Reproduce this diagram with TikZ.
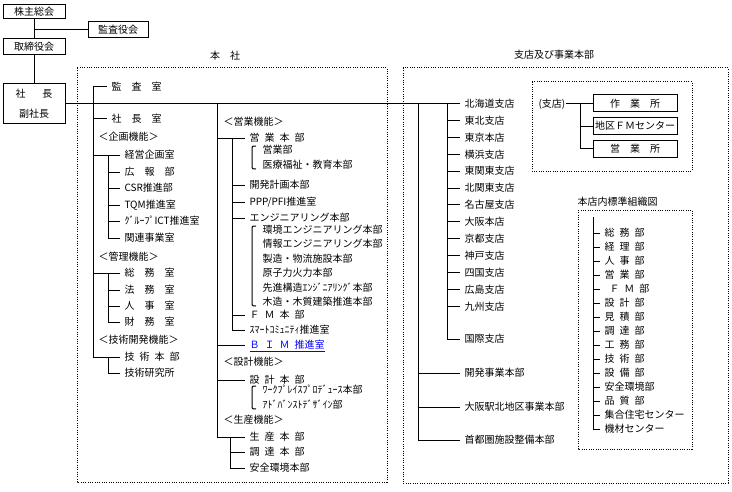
\documentclass[tikz,border=0pt]{standalone}
\usepackage{fontspec}
\setmainfont{Noto Sans CJK JP}

\definecolor{linkblue}{RGB}{0,0,255}

\newcommand\hs{\hspace{0.5em}}
% side bracket in front of a group of sub units: x, top y, bottom y
\newcommand\sidebracket[3]{%
	\draw (#1+4,#2) .. controls (#1,#2) .. (#1,#2+4) -- (#1,#3-4) .. controls (#1,#3) .. (#1+4,#3);}

\tikzset{
	unit/.style = {anchor=west, inner xsep=3pt, inner ysep=0pt, text height=6.6pt, text depth=0.9pt},
	sub/.style = {unit, inner xsep=0pt},
	frame/.style = {draw, inner sep=0pt},
	dotframe/.style = {draw, densely dotted}
}

\begin{document}
\begin{tikzpicture}[x=0.75pt, y=-0.75pt, line width=0.75pt, font={\fontsize{7.5pt}{9pt}\selectfont}]

	% Definitions

	\def\branchgap{16.9}	% spacing of the branch offices
	\def\deptgap{14}		% spacing of the standard departments

	\useasboundingbox (0,0) rectangle (732,492);


	% Governing bodies

	\node[frame, minimum width=46.5pt, minimum height=10.5pt] (agm) at (34,12) {株主総会};
	\node[frame, minimum width=45pt, minimum height=12pt] (auditors) at (118,30) {監査役会};
	\node[frame, minimum width=46.5pt, minimum height=12pt] (board) at (34,47) {取締役会};
	\node[frame, minimum width=46.5pt, minimum height=29.25pt, align=center] (president) at (34,103.5) {社\hspace{1.7em}長\\[6pt]副社長};

	\draw (agm) -- (board);
	\draw (agm.south |- auditors.west) -- (auditors.west);
	\draw (board) -- (president);


	% Head office, left column

	\node (hqlabel) at (225,56) {本　社};
	\draw[dotframe] (77,68) rectangle (387,482);

	\coordinate (lspine) at (93,87);
	\node[unit] (audit) at (107,87) {監　査　室};
	\node[unit] (secretariat) at (107,119) {社　長　室};

	\node[sub] (planlabel) at (98,137) {＜企画機能＞};
	\coordinate (plan) at (108,155);
	\foreach \y/\t [count=\i] in {155/経営企画室, 172/広　報　部, 188/CSR推進部, 205/TQM推進室, 221/ｸﾞﾙｰﾌﾟICT推進室, 238/関連事業室}
		\node[unit] (plan\i) at (120,\y) {\t};

	\node[sub] (adminlabel) at (98,257) {＜管理機能＞};
	\coordinate (admin) at (108,273);
	\foreach \y/\t [count=\i] in {273/総　務　室, 290/法　務　室, 306/人　事　室, 322/財　務　室}
		\node[unit] (admin\i) at (120,\y) {\t};

	\node[sub] (techlabel) at (98,340) {＜技術開発機能＞};
	\coordinate (tech) at (108,357);
	\node[unit] (tech1) at (120,357) {技\hs 術\hs 本\hs 部};
	\node[unit] (tech2) at (120,373) {技術研究所};

	\draw (lspine) |- (tech1.west);
	\draw (lspine) -- (audit.west);
	\draw (lspine |- secretariat.west) -- (secretariat.west);
	\draw (lspine |- plan1.west) -- (plan1.west);
	\draw (lspine |- admin1.west) -- (admin1.west);
	\draw (plan) |- (plan6.west);
	\foreach \i in {2,...,5}
		\draw (plan |- plan\i.west) -- (plan\i.west);
	\draw (admin) |- (admin4.west);
	\foreach \i in {2,3}
		\draw (admin |- admin\i.west) -- (admin\i.west);
	\draw (tech) |- (tech2.west);


	% Head office, right column

	\coordinate (mspine) at (217,103.5);

	\node[sub] (saleslabel) at (223,122) {＜営業機能＞};
	\coordinate (sales) at (232,138);
	\node[unit] (sales1) at (245,138) {営\hs 業\hs 本\hs 部};
	\node[sub] (sales1a) at (262,150) {営業部};
	\node[sub] (sales1b) at (262,165) {医療福祉・教育本部};
	\node[unit] (sales2) at (245,185) {開発計画本部};
	\node[unit] (sales3) at (245,202) {PPP/PFI推進室};
	\node[unit] (sales4) at (245,218) {エンジニアリング本部};
	\foreach \y/\t [count=\i] in {230/環境エンジニアリング本部, 244/情報エンジニアリング本部, 259/製造・物流施設本部, 273/原子力火力本部, 288/先進構造ｴﾝｼﾞﾆｱﾘﾝｸﾞ本部, 302/木造・木質建築推進本部}
		\node[sub] (eng\i) at (262,\y) {\t};
	\node[unit] (sales5) at (245,315) {Ｆ\hs Ｍ\hs 本\hs 部};
	\node[unit] (sales6) at (245,330) {ｽﾏｰﾄｺﾐｭﾆﾃｨ推進室};
	\node[unit, text=linkblue] (bim) at (245,345) {\underline{Ｂ\hs Ｉ\hs Ｍ\hs 推進室}};

	\node[sub] (designlabel) at (223,362) {＜設計機能＞};
	\node[unit] (design1) at (245,380) {設\hs 計\hs 本\hs 部};
	\node[sub] (design1a) at (262,390) {ﾜｰｸﾌﾟﾚｲｽﾌﾟﾛﾃﾞｭｰｽ本部};
	\node[sub] (design1b) at (262,405) {ｱﾄﾞﾊﾞﾝｽﾄﾃﾞｻﾞｲﾝ部};

	\node[sub] (prodlabel) at (223,420) {＜生産機能＞};
	\coordinate (prod) at (230,437);
	\node[unit] (prod1) at (245,437) {生\hs 産\hs 本\hs 部};
	\node[unit] (prod2) at (245,452) {調\hs 達\hs 本\hs 部};
	\node[unit] (prod3) at (245,468) {安全環境本部};

	\draw (mspine) |- (prod1.west);
	\draw (mspine |- sales1.west) -- (sales1.west);
	\draw (sales) |- (sales6.west);
	\foreach \n in {sales2, sales3, sales4, sales5}
		\draw (sales |- \n.west) -- (\n.west);
	\draw (mspine |- bim.west) -- (bim.west);
	\draw (mspine |- design1.west) -- (design1.west);
	\draw (prod) |- (prod3.west);
	\draw (prod |- prod2.west) -- (prod2.west);

	\sidebracket{252}{146}{169}
	\sidebracket{252}{226}{306}
	\sidebracket{252}{386}{409}


	% Branches and divisions

	\node (brlabel) at (554,55) {支店及び事業本部};
	\draw[dotframe] (403,68) rectangle (728,483);

	\coordinate (bspine) at (447,103.5);
	\coordinate (dspine) at (418,103.5);
	\foreach \t [count=\i] in {北海道支店, 東北支店, 東京本店, 横浜支店, 東関東支店, 北関東支店, 名古屋支店, 大阪本店, 京都支店, 神戸支店, 四国支店, 広島支店, 九州支店}
		\node[unit] (branch\i) at (460,{103.5+\branchgap*(\i-1)}) {\t};
	\node[unit] (branch14) at (460,339) {国際支店};
	\foreach \y/\t [count=\i] in {373/開発事業本部, 407/大阪駅北地区事業本部, 440/首都圏施設整備本部}
		\node[unit] (div\i) at (460,\y) {\t};

	\draw (president.east) -- (branch1.west);
	\draw (bspine) |- (branch14.west);
	\foreach \i in {2,...,13}
		\draw (bspine |- branch\i.west) -- (branch\i.west);
	\draw (dspine) |- (div3.west);
	\draw (dspine |- div1.west) -- (div1.west);
	\draw (dspine |- div2.west) -- (div2.west);


	% Branch office units

	\draw[dotframe] (532,82) rectangle (692,171);
	\node[sub] (branchhead) at (538,103.5) {(支店)};
	\node[frame, minimum width=63pt, minimum height=12.75pt] (site) at (635,103.5) {作　業　所};
	\node[frame, minimum width=63pt, minimum height=12pt] (fmcenter) at (635,126) {地区ＦＭセンター};
	\node[frame, minimum width=63pt, minimum height=12.75pt] (office) at (635,148.5) {営　業　所};

	\coordinate (sspine) at (580,103.5);
	\draw (branchhead.east) -- (site.west);
	\draw (sspine) |- (office.west);
	\draw (sspine |- fmcenter.west) -- (fmcenter.west);


	% Standard organisation of a main branch

	\node[sub] (stdlabel) at (577,202) {本店内標準組織図};
	\draw[dotframe] (578,210) rectangle (692,449);

	\coordinate (hspine) at (593,217);
	\foreach \t [count=\i] in {総\hs 務\hs 部, 経\hs 理\hs 部, 人\hs 事\hs 部, 営\hs 業\hs 部, \hs Ｆ\hs Ｍ\hs 部, 設\hs 計\hs 部, 見\hs 積\hs 部, 調\hs 達\hs 部, 工\hs 務\hs 部, 技\hs 術\hs 部, 設\hs 備\hs 部, 安全環境部, 品\hs 質\hs 部, 集合住宅センター, 機材センター}
		\node[unit] (dept\i) at (600,{233+\deptgap*(\i-1)}) {\t};

	\draw (hspine) |- (dept15.west);
	\foreach \i in {1,...,14}
		\draw (hspine |- dept\i.west) -- (dept\i.west);

\end{tikzpicture}
\end{document}
